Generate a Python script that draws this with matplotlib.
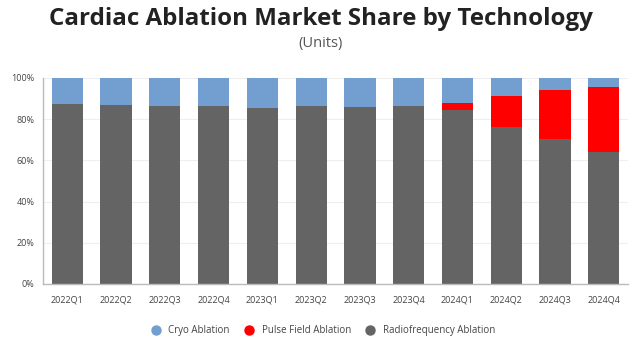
import numpy as np
import matplotlib
matplotlib.use('Agg')
import matplotlib.pyplot as plt
from matplotlib.lines import Line2D

quarters = ['2022Q1', '2022Q2', '2022Q3', '2022Q4', '2023Q1', '2023Q2',
            '2023Q3', '2023Q4', '2024Q1', '2024Q2', '2024Q3', '2024Q4']
rf = [87.3, 86.7, 86.2, 86.5, 85.4, 86.4, 85.7, 86.5, 84.3, 76.1, 70.5, 64.1]
pfa = [0, 0, 0, 0, 0, 0, 0, 0, 3.4, 15.1, 23.7, 31.7]
cryo = [100 - a - b for a, b in zip(rf, pfa)]

c_cryo = '#729fcf'
c_pfa = '#ff0000'
c_rf = '#646464'

plt.rcParams['font.family'] = ['Open Sans', 'DejaVu Sans']

fig = plt.figure(figsize=(6.41, 3.48), dpi=100)
ax = fig.add_axes([0.067, 0.184, 0.913, 0.592])

x = np.arange(len(quarters))
w = 0.64
ax.bar(x, rf, w, color=c_rf, zorder=2)
ax.bar(x, pfa, w, bottom=rf, color=c_pfa, zorder=2)
ax.bar(x, cryo, w, bottom=np.array(rf) + np.array(pfa), color=c_cryo, zorder=2)

ax.set_xlim(-0.5, 11.5)
ax.set_ylim(0, 100)
ax.set_yticks(range(0, 101, 20))
ax.set_yticklabels([f'{v}%' for v in range(0, 101, 20)])
ax.set_xticks(x)
ax.set_xticklabels(quarters)
ax.tick_params(axis='both', length=0, labelsize=6.5, colors='#444444')
ax.tick_params(axis='x', pad=8)
ax.tick_params(axis='y', pad=6)
ax.grid(axis='y', color='#eeeeee', linewidth=0.8, zorder=0)
for s in ['top', 'right']:
    ax.spines[s].set_visible(False)
for s in ['left', 'bottom']:
    ax.spines[s].set_color('#bbbbbb')
    ax.spines[s].set_linewidth(1.0)

fig.text(0.5, 0.945, 'Cardiac Ablation Market Share by Technology', ha='center', va='center',
         fontsize=17.4, fontweight='bold', color='#222222')
fig.text(0.5, 0.875, '(Units)', ha='center', va='center', fontsize=10.5, color='#555555')

handles = [Line2D([], [], marker='o', linestyle='', markersize=6.5, color=c)
           for c in [c_cryo, c_pfa, c_rf]]
fig.legend(handles, ['Cryo Ablation', 'Pulse Field Ablation', 'Radiofrequency Ablation'],
           loc='center', bbox_to_anchor=(0.5, 0.05), ncol=3, frameon=False,
           fontsize=7, handletextpad=0.3, columnspacing=1.0, labelcolor='#444444')

fig.savefig('out.png', dpi=100)
